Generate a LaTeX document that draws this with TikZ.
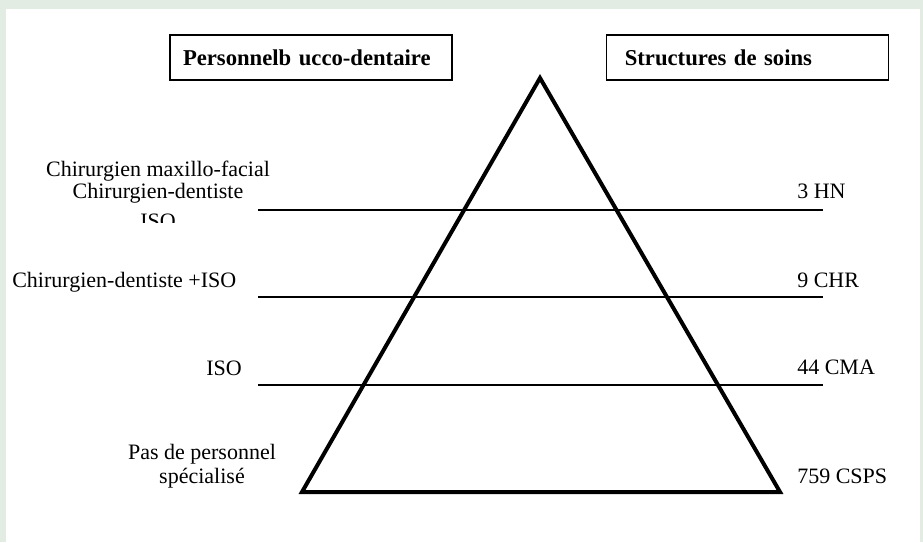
\documentclass[tikz,border=0pt]{standalone}
\usepackage{fontspec}
\setmainfont{Liberation Serif}
\usetikzlibrary{positioning}
\definecolor{pageGreen}{HTML}{E2ECE2}

\begin{document}
\begin{tikzpicture}[x=0.75pt, y=-0.75pt]
  \tikzstyle{header} = [draw, line width=1.1pt, rectangle, minimum width=211.5pt, minimum height=33.75pt, text width=192pt, align=left, inner xsep=9.75pt, font={\fontsize{17}{20}\selectfont\bfseries}]
  \tikzstyle{levelLine} = [black, line width=1pt]
  \tikzstyle{levelLabel} = [inner sep=0pt, font={\fontsize{16.5}{18}\selectfont}]
  \tikzstyle{pyramid} = [black, line width=3pt, line join=miter]

  \useasboundingbox (0,0) rectangle (923,542);
  \fill[pageGreen] (0,0) rectangle (923,542);
  \fill[white] (6,9) rectangle (920,542);

  % headers
  \node[header] (staff) at (311,57.5) {Personnelb ucco-dentaire};
  \node[header] (care)  at (747.5,57.5) {\hspace*{4pt}Structures de soins};

  % pyramid
  \coordinate (apex)  at (540,78);
  \coordinate (baseW) at (302,492);
  \coordinate (baseE) at (780,492);
  \draw[pyramid] (apex) -- (baseE) -- (baseW) -- cycle;

  % level lines
  \foreach \name/\y in {hn/210, chr/297, cma/385} {
    \coordinate (\name W) at (258,\y);
    \coordinate (\name E) at (823,\y);
    \draw[levelLine] (\name W) -- (\name E);
  }

  % care structures
  \node[levelLabel, anchor=base west] (hnLabel)   at (797,198) {3 HN};
  \node[levelLabel, anchor=base west] (chrLabel)  at (797,287) {9 CHR};
  \node[levelLabel, anchor=base west] (cmaLabel)  at (797,374) {44 CMA};
  \node[levelLabel, anchor=base west] (cspsLabel) at (797,483) {759 CSPS};

  % staff
  \node[levelLabel, anchor=base] (maxLabel)  at (158,176) {Chirurgien maxillo-facial};
  \node[levelLabel, anchor=base] (dentLabel) at (158,198) {Chirurgien-dentiste};
  \begin{scope}
    \clip (0,0) rectangle (258,222);
    \node[levelLabel, anchor=base] (isoTop) at (158,228) {ISO};
  \end{scope}
  \node[levelLabel, anchor=base west] (dentIsoLabel) at (12,287) {Chirurgien-dentiste +ISO};
  \node[levelLabel, anchor=base east] (isoLabel)     at (242,375) {ISO};
  \node[levelLabel, anchor=base] (noneLabel)  at (202,459) {Pas de personnel};
  \node[levelLabel, anchor=base] (specLabel)  at (202,483) {spécialisé};
\end{tikzpicture}
\end{document}
